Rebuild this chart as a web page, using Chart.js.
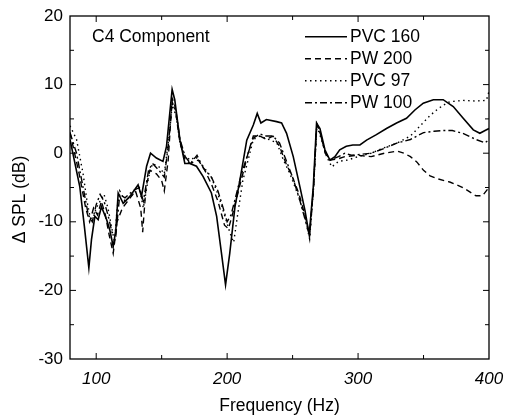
<!DOCTYPE html>
<html>
<head>
<meta charset="utf-8">
<script src="https://cdn.jsdelivr.net/npm/chart.js@4.4.1/dist/chart.umd.min.js"></script>
<style>
  html, body { margin: 0; padding: 0; background: #fff; }
  #wrap { width: 505px; height: 417px; }
</style>
</head>
<body>
<div id="wrap"><canvas id="c4Chart" width="505" height="417"></canvas></div>
<script>
// values, frequency in Hz, level change in dB
const seriesLabels = ['PVC 160', 'PW 200', 'PVC 97', 'PW 100'];
const xTickValues = [100, 200, 300, 400];

const pvc160Freq = [80, 87.5, 91, 94.4, 96.4, 99, 101.5, 104, 108, 110.4, 113, 115, 116.8, 120.6, 125.7, 132, 134.6, 138.5, 141.5, 146, 151, 153.7, 158, 160, 164, 167.7, 171.5, 176.6, 181.7, 188, 192, 195.7, 198.8, 202, 206, 209.8, 215, 220, 223, 225.8, 230, 237.8, 241.6, 245.4, 250.5, 255.6, 259.4, 262.7, 265.8, 268.3, 270.9, 274.7, 278.5, 282.3, 286, 291, 296, 301.4, 306.5, 314, 321.7, 329.4, 337, 343.4, 349.8, 357.5, 365, 372.7, 380.3, 388, 393, 397, 400];
const pvc160Db = [2, -4.9, -10.7, -16.7, -12.6, -9.2, -9.7, -7.8, -9.7, -11.2, -13.6, -11.2, -5.8, -7.3, -6.3, -4.6, -6.3, -1.9, 0, -0.7, -1.2, 1, 9.3, 7.8, 1.9, -1.5, -1.5, -1.9, -3.4, -5.8, -9.2, -14.6, -19.2, -14.6, -7.8, -3.9, 1.9, 4.1, 5.8, 4.4, 4.9, 4.6, 4.4, 2.9, -0.5, -4.9, -8.3, -11.9, -4.9, 4.4, 3.6, 0.5, -1, -0.5, 0.5, 1, 1.2, 1.2, 1.9, 2.7, 3.6, 4.4, 5.1, 6.3, 7.3, 7.8, 7.8, 6.8, 5.1, 3.4, 2.9, 3.3, 3.6];

const pw200Freq = [80, 87, 92, 95, 98, 101, 104, 107, 110, 113, 116, 120, 124, 130, 134, 135.5, 138, 141, 146, 150, 152, 155, 158, 160, 164, 168, 172, 178, 183, 188, 193, 198, 201, 204, 208, 212, 216, 220, 225, 230, 235, 240, 245, 250, 255, 260, 263, 266, 268.5, 271, 275, 279, 285, 290, 300, 310, 320, 330, 335, 340, 345, 350, 355, 360, 370, 380, 390, 395, 400];
const pw200Db = [3, -3, -8, -10, -8, -9, -7, -9, -12, -14.6, -10, -8, -7, -5.5, -8, -11.5, -5, -2.5, -3, -4, -5.5, -1, 8, 7, 1.5, -1, -1.5, -1, -2.5, -4.5, -7, -10.5, -11, -9, -6, -3, 0, 2.5, 2.5, 2, 2.5, 1, -1.5, -3.5, -6, -9.5, -12, -5, 4.2, 3, 0, -1, -0.8, -0.5, -0.3, -0.5, 0, 0.3, 0, -0.5, -1.3, -2.5, -3.3, -3.7, -4.2, -5, -6.2, -6.2, -5];

const pvc97Freq = [80, 85, 90, 93, 95, 97, 100, 103, 106, 109, 112, 114, 116, 118, 122, 128, 133, 136, 140, 143, 148, 152, 156, 158, 161, 164, 168, 172, 176, 182, 188, 193, 198, 202, 205, 208, 212, 216, 220, 225, 232, 238, 243, 248, 254, 259, 263, 266, 268.5, 272, 276, 280, 285, 292, 300, 310, 320, 330, 340, 345, 350, 355, 360, 365, 370, 380, 390, 398, 400];
const pvc97Db = [4, 2, -3, -7, -9, -10, -8, -7, -6, -8, -11, -13, -8, -5.5, -7, -6, -5, -8, -3.5, -1.5, -2, -3, 3, 7, 5.5, 1.5, -0.5, -1, -0.5, -2, -3.5, -6, -9, -11.5, -13, -9, -4, -1, 2, 2.5, 2, 1.5, -1, -3, -6, -9, -12.5, -5, 4, 2, -0.5, -2, -1.2, -1, -0.5, 0, 0.8, 1.5, 2.5, 3.5, 4.5, 5.5, 6.3, 7, 7.5, 7.7, 7.6, 7.7, 9];

const pw100Freq = [80, 85, 90, 94, 97, 100, 103, 106, 109, 112, 115, 118, 122, 128, 133, 136, 140, 143, 148, 152, 155, 158, 161, 164, 168, 172, 177, 182, 188, 193, 197, 200, 203, 207, 211, 216, 220, 225, 230, 235, 240, 245, 250, 255, 260, 263, 266, 268.5, 271, 275, 279, 285, 290, 295, 300, 310, 320, 330, 340, 345, 350, 358, 365, 372, 380, 390, 397, 400];
const pw100Db = [3, 0, -5, -9, -10, -7.5, -6, -7, -9, -11.5, -12, -6, -6.5, -5.5, -5, -7, -2.5, -1.5, -2.5, -3.5, 1, 7.5, 6, 2, -0.5, -1.5, -0.3, -2.2, -3.5, -5.5, -8, -10, -9, -6, -3, 0, 2.2, 2.8, 2.5, 2.5, 1.5, -1, -3.5, -6.5, -10, -12, -5, 4.3, 3, 0, -1, -0.5, 0, -0.3, -0.2, 0, 0.7, 1.5, 2, 2.5, 3, 3.2, 3.3, 3.3, 2.9, 2, 1.5, 2];

const toPoints = (xs, ys) => xs.map((x, i) => ({ x: x, y: ys[i] }));

const FONT = '"Liberation Sans", Arial, sans-serif';

// box, inward ticks, y title, legend and label inside the plot
const framePlugin = {
    id: 'frame',
    afterDraw(chart) {
        const { ctx, chartArea: a, scales: { x, y } } = chart;
        ctx.save();
        ctx.strokeStyle = '#000';
        ctx.lineWidth = 1.3;
        ctx.setLineDash([]);
        ctx.strokeRect(a.left, a.top, a.right - a.left, a.bottom - a.top);

        ctx.lineWidth = 1;
        for (let v = 100; v < 400; v += 50) {
            const px = x.getPixelForValue(v);
            const len = v % 100 === 0 ? 6 : 4;
            ctx.beginPath();
            ctx.moveTo(px, a.bottom); ctx.lineTo(px, a.bottom - len);
            ctx.moveTo(px, a.top); ctx.lineTo(px, a.top + len);
            ctx.stroke();
        }
        for (let v = -25; v < 20; v += 5) {
            const py = y.getPixelForValue(v);
            const len = v % 10 === 0 ? 6 : 4;
            ctx.beginPath();
            ctx.moveTo(a.left, py); ctx.lineTo(a.left + len, py);
            ctx.moveTo(a.right, py); ctx.lineTo(a.right - len, py);
            ctx.stroke();
        }

        ctx.fillStyle = '#000';
        ctx.font = '17.5px ' + FONT;
        ctx.textBaseline = 'middle';

        // y axis title sits a little below the middle in the scan
        ctx.save();
        ctx.translate(20, (a.top + a.bottom) / 2 + 12);
        ctx.rotate(-Math.PI / 2);
        ctx.textAlign = 'center';
        ctx.fillText('Δ SPL (dB)', 0, 0);
        ctx.restore();

        ctx.fillText('C4 Component', a.left + 22, a.top + 21.5);

        chart.data.datasets.forEach((ds, i) => {
            const rowY = a.top + 20.7 + i * 22;
            ctx.beginPath();
            ctx.lineWidth = ds.borderWidth;
            ctx.setLineDash(ds.borderDash || []);
            ctx.moveTo(a.left + 235, rowY);
            ctx.lineTo(a.left + 277, rowY);
            ctx.stroke();
            ctx.setLineDash([]);
            ctx.fillText(ds.label, a.left + 280, rowY);
        });
        ctx.restore();
    }
};

const ctx = document.querySelector('#c4Chart').getContext('2d');
new Chart(ctx, {
    type: 'line',
    data: {
        datasets: [{
            label: seriesLabels[0],
            data: toPoints(pvc160Freq, pvc160Db),
            borderColor: '#000',
            borderWidth: 1.6,
            borderDash: []
        }, {
            label: seriesLabels[1],
            data: toPoints(pw200Freq, pw200Db),
            borderColor: '#000',
            borderWidth: 1.4,
            borderDash: [6, 4]
        }, {
            label: seriesLabels[2],
            data: toPoints(pvc97Freq, pvc97Db),
            borderColor: '#000',
            borderWidth: 1.4,
            borderDash: [1.5, 3.5]
        }, {
            label: seriesLabels[3],
            data: toPoints(pw100Freq, pw100Db),
            borderColor: '#000',
            borderWidth: 1.4,
            borderDash: [7, 3, 2, 3]
        }]
    },
    options: {
        responsive: false,
        animation: false,
        events: [],
        elements: { point: { radius: 0 }, line: { tension: 0 } },
        layout: { padding: { left: 0, right: 16, top: 16, bottom: 0 } },
        plugins: { legend: { display: false }, tooltip: { enabled: false } },
        scales: {
            x: {
                type: 'linear',
                min: 80,
                max: 400,
                afterBuildTicks: (scale) => { scale.ticks = xTickValues.map(v => ({ value: v })); },
                afterFit: (scale) => {
                    scale.height = 58;
                    scale.paddingLeft = 0;
                    scale.paddingRight = 0;
                },
                grid: { display: false, drawTicks: false },
                border: { display: false },
                ticks: {
                    color: '#000',
                    padding: 10,
                    maxRotation: 0,
                    font: { family: FONT, size: 17, style: 'italic' }
                },
                title: {
                    display: true,
                    text: 'Frequency (Hz)',
                    color: '#000',
                    padding: { top: 0, bottom: 0 },
                    font: { family: FONT, size: 17.5 }
                }
            },
            y: {
                min: -30,
                max: 20,
                afterFit: (scale) => {
                    scale.width = 70;
                    scale.paddingTop = 0;
                    scale.paddingBottom = 0;
                },
                grid: { display: false, drawTicks: false },
                border: { display: false },
                ticks: {
                    stepSize: 10,
                    color: '#000',
                    padding: 7,
                    font: { family: FONT, size: 17 }
                }
            }
        }
    },
    plugins: [framePlugin]
});
</script>
</body>
</html>
